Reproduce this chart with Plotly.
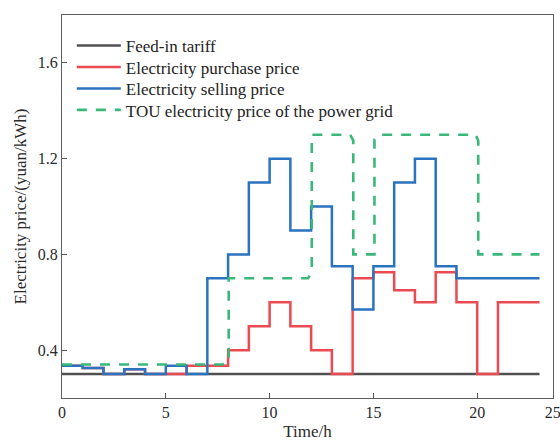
import plotly.graph_objects as go

# ---- data ----
hours = list(range(24))
feed_in_tariff = [0.30] * 24
purchase_price = [0.335, 0.325, 0.30, 0.32, 0.30, 0.30, 0.335, 0.335, 0.40, 0.50, 0.60, 0.50,
                  0.40, 0.30, 0.70, 0.725, 0.65, 0.60, 0.725, 0.60, 0.30, 0.60, 0.60, 0.60]
selling_price = [0.335, 0.325, 0.30, 0.32, 0.30, 0.335, 0.30, 0.70, 0.80, 1.10, 1.20, 0.90,
                 1.00, 0.75, 0.57, 0.75, 1.10, 1.20, 0.75, 0.70, 0.70, 0.70, 0.70, 0.70]
tou_time = [0, 7.72, 8.03, 8.03, 11.85, 12.03, 12.03, 13.88, 14.03, 14.03, 15.05, 15.05, 15.28,
            19.92, 20.05, 20.05, 23.0]
tou_price = [0.34, 0.34, 0.353, 0.70, 0.70, 0.728, 1.30, 1.30, 1.275, 0.80, 0.80, 1.28, 1.30,
             1.30, 1.275, 0.80, 0.80]

x_ticks = [0, 5, 10, 15, 20, 23.64]
x_ticktext = ["0", "5", "10", "15", "20", "25"]
y_ticks = [0.4, 0.8, 1.2, 1.6]
y_ticktext = ["0.4", "0.8", "1.2", "1.6"]

FONT = "Liberation Serif"
GRAY = "#505050"
RED = "#ec4a52"
BLUE = "#2b72bf"
GREEN = "#3ab87a"
TXT = "#2a2a2a"

fig = go.Figure()
fig.add_trace(go.Scatter(x=hours, y=feed_in_tariff, mode="lines", name="Feed-in tariff",
                         legend="legend",
                         line=dict(shape="hv", color=GRAY, width=2.5)))
fig.add_trace(go.Scatter(x=hours, y=purchase_price, mode="lines", name="Electricity purchase price",
                         legend="legend2",
                         line=dict(shape="hv", color=RED, width=2.5)))
fig.add_trace(go.Scatter(x=hours, y=selling_price, mode="lines", name="Electricity selling price",
                         legend="legend3",
                         line=dict(shape="hv", color=BLUE, width=2.5)))
fig.add_trace(go.Scatter(x=tou_time, y=tou_price, mode="lines",
                         name="TOU electricity price of the power grid",
                         legend="legend4",
                         line=dict(color=GREEN, width=2.6, dash="10px,9px")))

def leg(yc):
    return dict(x=0.02, y=yc, xanchor="left", yanchor="middle",
                bgcolor="rgba(0,0,0,0)", borderwidth=0, itemwidth=44,
                font=dict(family=FONT, size=17, color="#222222"))

fig.update_layout(
    width=560, height=441,
    margin=dict(l=62, r=7, t=15, b=43),
    plot_bgcolor="white", paper_bgcolor="white",
    font=dict(family=FONT, size=16, color=TXT),
    showlegend=True,
    legend=leg(0.919), legend2=leg(0.863), legend3=leg(0.807), legend4=leg(0.751),
    xaxis=dict(range=[0, 23.65], tickvals=x_ticks, ticktext=x_ticktext,
               ticks="inside", ticklen=5, tickcolor="#555555",
               showline=True, mirror=True, linecolor="#606060", linewidth=1.3,
               showgrid=False, zeroline=False, automargin=False,
               ticklabeloverflow="allow",
               tickfont=dict(family=FONT, size=16, color=TXT),
               title=dict(text="Time/h", font=dict(family=FONT, size=17, color=TXT),
                          standoff=6)),
    yaxis=dict(range=[0.2, 1.8], tickvals=y_ticks, ticktext=y_ticktext,
               ticks="inside", ticklen=5, tickcolor="#555555",
               showline=True, mirror=True, linecolor="#606060", linewidth=1.3,
               showgrid=False, zeroline=False, automargin=False,
               tickfont=dict(family=FONT, size=16, color=TXT),
               title=dict(text="Electricity price/(yuan/kWh)",
                          font=dict(family=FONT, size=17, color=TXT),
                          standoff=6)),
)

fig.write_html("out.html")
